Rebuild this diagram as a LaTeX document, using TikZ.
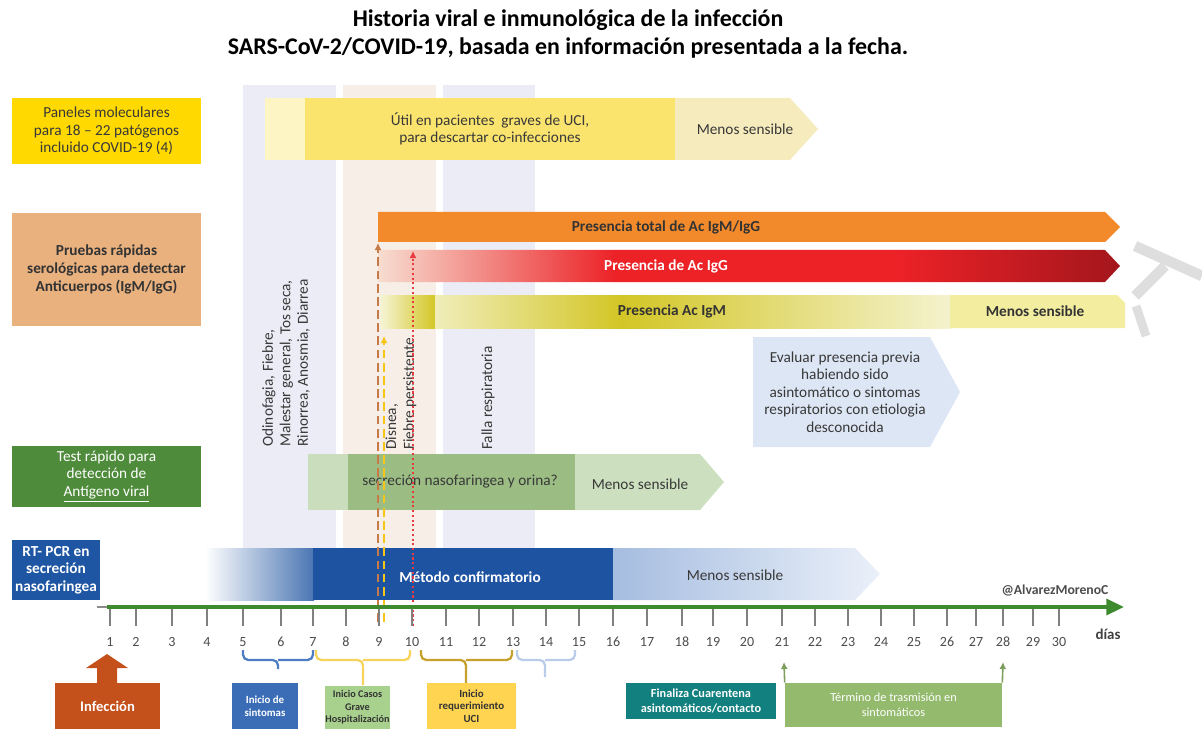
\documentclass[tikz,border=0pt]{standalone}
\usepackage{fontspec}
\setmainfont{Carlito}
\usepackage{tikz}
\usetikzlibrary{positioning,arrows.meta}

\definecolor{bandlav}{HTML}{ECECF6}
\definecolor{bandpeach}{HTML}{F8EEE8}
\definecolor{molbox}{HTML}{FFD900}
\definecolor{serobox}{HTML}{E9B17E}
\definecolor{agbox}{HTML}{4E8B3A}
\definecolor{pcrbox}{HTML}{1F56A3}
\definecolor{molpale}{HTML}{FEF5C4}
\definecolor{molyel}{HTML}{FBE46E}
\definecolor{molless}{HTML}{F6EBBD}
\definecolor{igtot}{HTML}{F28A2C}
\definecolor{iggpale}{HTML}{F7DDD0}
\definecolor{iggred}{HTML}{EC2227}
\definecolor{iggdark}{HTML}{A3161C}
\definecolor{igmolive}{HTML}{D3C626}
\definecolor{igmpale}{HTML}{F0EDB9}
\definecolor{igmless}{HTML}{F3EDA0}
\definecolor{agpale}{HTML}{CADDBD}
\definecolor{agmid}{HTML}{9BBD84}
\definecolor{agless}{HTML}{CCE0BF}
\definecolor{pcrblue}{HTML}{1D53A0}
\definecolor{pcrlight}{HTML}{A6BDE0}
\definecolor{pcrfade}{HTML}{EAF0F9}
\definecolor{evalblue}{HTML}{DDE6F4}
\definecolor{axisgreen}{HTML}{3E8B2F}
\definecolor{infcol}{HTML}{C4501C}
\definecolor{sintcol}{HTML}{3B6DB7}
\definecolor{gravecol}{HTML}{A9D18E}
\definecolor{ucicol}{HTML}{FFD451}
\definecolor{fincol}{HTML}{138080}
\definecolor{termcol}{HTML}{93BA6D}
\definecolor{brblue}{HTML}{4F7DC4}
\definecolor{bryel}{HTML}{F6D35A}
\definecolor{brgold}{HTML}{C7A12E}
\definecolor{brlight}{HTML}{B9CDEB}
\definecolor{dashbrown}{HTML}{C57A48}
\definecolor{dashyel}{HTML}{F5C518}
\definecolor{dashred}{HTML}{E83A3F}

\pgfdeclarehorizontalshading{iggshade}{100bp}{color(0bp)=(iggpale); color(25bp)=(iggpale);
  color(41bp)=(iggred); color(60bp)=(iggred); color(75bp)=(iggdark); color(100bp)=(iggdark)}
\pgfdeclarehorizontalshading{igmshade}{100bp}{color(0bp)=(igmpale); color(25bp)=(igmpale);
  color(43bp)=(igmolive); color(75bp)=(igmpale!70); color(100bp)=(igmpale!70)}

\begin{document}
\begin{tikzpicture}[x=0.02cm,y=-0.02cm,
    every node/.style={align=center,inner sep=0pt},
    txt/.style={font=\fontsize{8.7}{10}\selectfont,text=black!78},
    btxt/.style={font=\fontsize{8.7}{10}\selectfont\bfseries,text=black!80},
    wtxt/.style={font=\fontsize{8.7}{10}\selectfont,text=white},
    small/.style={font=\fontsize{6.2}{7.2}\selectfont\bfseries},
    leftbox/.style={minimum width=3.78cm},
    vtxt/.style={txt,rotate=90,anchor=west,align=left},
    daynum/.style={font=\fontsize{8}{9}\selectfont,text=black!70},
    brace/.style={line width=1.3pt,rounded corners=3pt},
    upline/.style={line width=0.9pt,-{Latex[length=4pt,width=4pt]}}]
  \useasboundingbox (0,0) rectangle (1202,729);

  \node[font=\fontsize{13.6}{16}\selectfont\bfseries] (title) at (568,34)
    {Historia viral e inmunológica de la infección\\SARS-CoV-2/COVID-19, basada en información presentada a la fecha.};

  % bandas de fondo
  \fill[bandlav] (243,85) rectangle (336,600);
  \fill[bandpeach] (343,85) rectangle (436,600);
  \fill[bandlav] (443,85) rectangle (535,600);

  % cajas de la izquierda
  \node[leftbox,fill=molbox,minimum height=1.32cm,txt] (mol) at (106.5,131)
    {Paneles moleculares\\para 18 -- 22 patógenos\\incluido COVID-19 (4)};
  \node[leftbox,fill=serobox,minimum height=2.26cm,btxt] (sero) at (106.5,269.5)
    {Pruebas rápidas\\serológicas para detectar\\Anticuerpos (IgM/IgG)};
  \node[leftbox,fill=agbox,minimum height=1.22cm,wtxt] (antig) at (106.5,476.5)
    {Test rápido para\\detección de\\\underline{Antígeno viral}};
  \node[minimum width=1.76cm,minimum height=1.2cm,fill=pcrbox,wtxt,font=\fontsize{8.7}{10}\selectfont\bfseries] (pcr) at (56,570)
    {RT- PCR en\\secreción\\nasofaringea};

  % paneles moleculares
  \fill[molpale] (265,98) rectangle (305,160);
  \fill[molyel] (305,98) rectangle (675,160);
  \fill[molless] (675,98) -- (790,98) -- (818,129) -- (790,160) -- (675,160) -- cycle;
  \node[txt] (util) at (490,129) {Útil en pacientes\ \ graves de UCI,\\para descartar co-infecciones};
  \node[txt] (molmenos) at (745,129) {Menos sensible};

  % anticuerpos
  \fill[igtot] (378,212) -- (1105,212) -- (1120,227) -- (1105,242) -- (378,242) -- cycle;
  \node[btxt] (total) at (666,227) {Presencia total de Ac IgM/IgG};
  \shade[shading=iggshade] (378,250) -- (1105,250) -- (1120,266) -- (1105,282) -- (378,282) -- cycle;
  \node[btxt,text=white] (igg) at (666,266) {Presencia de Ac IgG};
  \shade[left color=igmpale!60,right color=igmolive] (380,295) rectangle (435,328);
  \shade[shading=igmshade] (435,295) rectangle (951,328);
  \fill[igmless] (950,295) -- (1117,295) -- (1125,303) -- (1125,328) -- (950,328) -- cycle;
  \node[btxt] (igm) at (672,311) {Presencia Ac IgM};
  \node[btxt] (igmmenos) at (1035,311) {Menos sensible};

  \fill[evalblue] (753,337) -- (930,337) -- (960,392) -- (930,447) -- (753,447) -- cycle;
  \node[txt] (evaluar) at (845,392) {Evaluar presencia previa\\habiendo sido\\asintomático o sintomas\\respiratorios con etiologia\\desconocida};

  % antigeno
  \fill[agpale] (308,454) rectangle (348,510);
  \fill[agmid] (348,454) rectangle (575,510);
  \fill[agless] (575,454) -- (700,454) -- (724,482) -- (700,510) -- (575,510) -- cycle;
  \node[txt] (secrecion) at (460,482) {secreción nasofaringea y orina?};
  \node[txt] (agmenos) at (640,484) {Menos sensible};

  % rt-pcr
  \shade[left color=white,right color=pcrblue!80] (205,548) rectangle (314,600);
  \fill[pcrblue] (313,548) rectangle (613,600);
  \shade[left color=pcrlight,right color=pcrfade] (613,548) -- (855,548) -- (880,574) -- (855,600) -- (613,600) -- cycle;
  \node[btxt,text=white] (metodo) at (470,577) {Método confirmatorio};
  \node[txt] (pcrmenos) at (735,575) {Menos sensible};

  \node[vtxt] (sintomas) at (286,447) {Odinofagia, Fiebre,\\Malestar general, Tos seca,\\Rinorrea, Anosmia, Diarrea};
  \node[vtxt] (disnea) at (401,450) {Disnea,\\Fiebre persistente};
  \node[vtxt] (falla) at (488,450) {Falla respiratoria};

  % flechas verticales
  \coordinate (brownfoot) at (378,622);
  \coordinate (brownhead) at (378,243);
  \coordinate (yelfoot) at (384,622);
  \coordinate (yelhead) at (384,336);
  \coordinate (redfoot) at (413,626);
  \coordinate (redhead) at (413,251);
  \draw[dashbrown,line width=1.2pt,dash pattern=on 5pt off 2.5pt,-{Latex[length=4pt,width=4pt]}] (brownfoot) -- (brownhead);
  \draw[dashyel,line width=1pt,dash pattern=on 5pt off 2.5pt,-{Latex[length=4pt,width=4pt]}] (yelfoot) -- (yelhead);
  \draw[dashred,line width=1pt,dash pattern=on 1.2pt off 1.5pt,-{Latex[length=4pt,width=4pt]}] (redfoot) -- (redhead);

  \node[font=\fontsize{7.8}{9}\selectfont\bfseries,text=black!70] (autor) at (1055,590) {@AlvarezMorenoC};

  % linea de tiempo
  \coordinate (stub) at (97,607);
  \coordinate (axisstart) at (107,607);
  \coordinate (axisend) at (1124,607);
  \draw[black!45,line width=1.5pt] (stub) -- (axisstart);
  \draw[axisgreen,line width=2pt,-{Triangle[length=10pt,width=9pt]}] (axisstart) -- (axisend);
  \foreach \d/\x in {1/110,2/136,3/172,4/207,5/243,6/281,7/313,8/346,9/379,10/412,
      11/446,12/479,13/513,14/546,15/579,16/613,17/647,18/682,19/713,20/747,
      21/782,22/815,23/848,24/881,25/914,26/947,27/976,28/1003,29/1033,30/1059}{
    \coordinate (t\d) at (\x,609);
    \draw[black!50,line width=1pt] (t\d) -- ++(0,17);
    \node[daynum] (d\d) at (\x,642) {\d};
  }
  \node[font=\fontsize{8.5}{10}\selectfont\bfseries,text=black!75] (dias) at (1108,634) {días};

  % llaves
  \draw[brace,brblue] (243,650) |- (278,660) -- (278,669) (278,660) -| (313,650);
  \draw[brace,bryel] (316,650) |- (363,660) -- (363,685) (363,660) -| (410,650);
  \draw[brace,brgold] (421,650) |- (466,660) -- (466,683) (466,660) -| (512,650);
  \draw[brace,brlight] (517,650) |- (545,660) -- (545,677) (545,660) -| (575,650);

  % cajas inferiores
  \fill[infcol] (97,683) -- (97,668) -- (86,668) -- (107,654) -- (128,668) -- (117,668) -- (117,683) -- cycle;
  \node[fill=infcol,minimum width=2.1cm,minimum height=0.92cm,font=\fontsize{8.3}{10}\selectfont\bfseries,text=white] (infeccion) at (107.5,706) {Infección};
  \node[fill=sintcol,minimum width=1.32cm,minimum height=0.92cm,small,text=white] (inisint) at (265,706) {Inicio de\\sintomas};
  \node[fill=gravecol,minimum width=1.3cm,minimum height=0.86cm,font=\fontsize{5.8}{7}\selectfont\bfseries,text=black!80] (grave) at (357.5,707.5) {Inicio Casos\\Grave\\Hospitalización};
  \node[fill=ucicol,minimum width=1.78cm,minimum height=0.92cm,small,text=black!80] (uci) at (471.5,706) {Inicio\\requerimiento\\UCI};
  \node[fill=fincol,minimum width=3cm,minimum height=0.72cm,font=\fontsize{7}{8.4}\selectfont\bfseries,text=white] (finaliza) at (701,701) {Finaliza Cuarentena\\asintomáticos/contacto};
  \node[fill=termcol,minimum width=4.34cm,minimum height=0.88cm,font=\fontsize{7}{8.4}\selectfont,text=white] (termino) at (893.5,705) {Término de trasmisión en\\sintomáticos};
  \coordinate (end21) at (784,662);
  \coordinate (end28) at (1003,662);
  \draw[upline,termcol!85!black] (termino.north west) -- (end21);
  \draw[upline,termcol!85!black] (termino.north east) -- (end28);

  % marca de agua
  \draw[black!13,line width=6pt] (1135,246) -- (1202,276);
  \draw[black!13,line width=6pt] (1135,296) -- (1165,266);
  \draw[black!13,line width=5pt] (1136,306) -- (1146,336);
\end{tikzpicture}
\end{document}
